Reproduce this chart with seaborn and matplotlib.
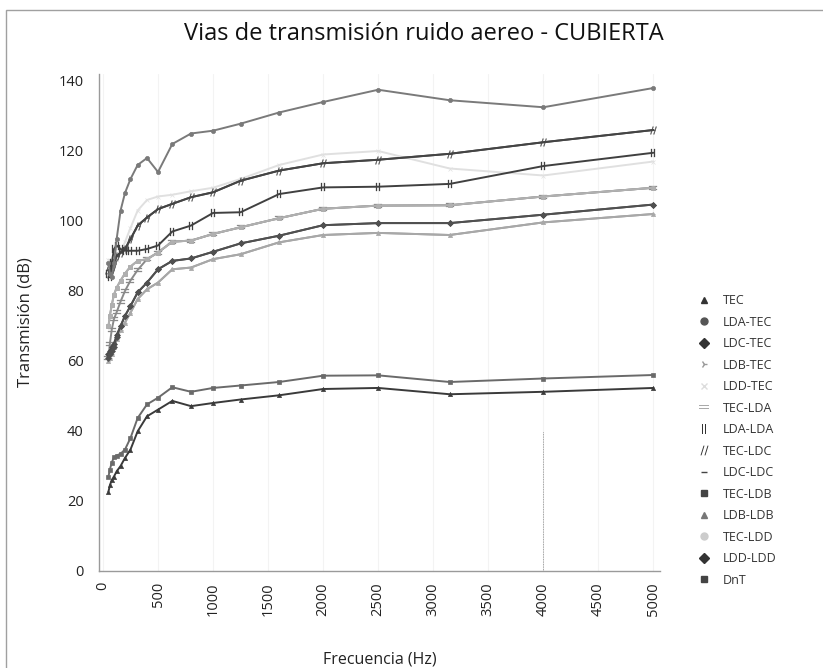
import matplotlib
matplotlib.use("Agg")
import matplotlib.pyplot as plt
from matplotlib.lines import Line2D
from matplotlib.patches import Rectangle
import seaborn as sns
import pandas as pd

freqs = [50, 63, 80, 100, 125, 160, 200, 250, 315, 400, 500, 630, 800, 1000,
         1250, 1600, 2000, 2500, 3150, 4000, 5000]

tec      = [22.7, 24.5, 26.0, 27.0, 28.5, 30.0, 32.3, 34.7, 39.9, 44.2, 46.1, 48.6, 47.1, 48.0, 49.0, 50.2, 52.0, 52.3, 50.5, 51.2, 52.3]
lda_tec  = [88.0, 85.0, 84.0, 88.0, 95.0, 103.0, 108.0, 112.0, 116.0, 118.0, 114.0, 122.0, 125.0, 125.8, 127.8, 131.0, 134.0, 137.5, 134.5, 132.5, 138.0]
ldc_tec  = [62.0, 63.0, 64.0, 65.0, 67.5, 70.0, 72.9, 75.7, 79.6, 82.4, 86.2, 88.6, 89.3, 91.2, 93.6, 95.8, 98.8, 99.4, 99.4, 101.8, 104.7]
ldb_tec  = [60.0, 61.0, 62.0, 64.0, 66.2, 69.0, 71.0, 73.8, 77.7, 80.5, 82.4, 86.2, 86.7, 89.1, 90.5, 93.9, 96.0, 96.6, 96.0, 99.6, 102.0]
ldd_tec  = [89.0, 88.0, 87.0, 88.0, 89.0, 91.0, 94.0, 98.0, 103.0, 106.0, 107.0, 107.5, 108.5, 109.5, 112.0, 116.0, 119.0, 120.0, 115.0, 113.0, 117.0]
tec_lda  = [61.0, 65.0, 69.0, 72.0, 74.0, 77.0, 80.0, 83.0, 86.0, 89.1, 91.0, 94.1, 94.4, 96.3, 98.2, 100.8, 103.5, 104.4, 104.5, 107.0, 109.5]
lda_lda  = [85.0, 84.0, 88.0, 92.0, 93.0, 92.0, 91.5, 91.5, 91.5, 92.0, 93.0, 97.0, 98.7, 102.3, 102.5, 107.7, 109.6, 109.8, 110.6, 115.7, 119.5]
tec_ldc  = [86.0, 85.0, 86.0, 88.0, 90.0, 91.0, 92.0, 94.8, 98.7, 101.0, 103.4, 104.9, 106.8, 108.2, 111.5, 114.4, 116.5, 117.5, 119.2, 122.5, 126.0]
ldc_ldc  = [86.0, 85.0, 86.0, 88.0, 90.0, 91.0, 92.0, 94.8, 98.7, 101.0, 103.4, 104.9, 106.8, 108.2, 111.5, 114.4, 116.5, 117.5, 119.2, 122.5, 126.0]
tec_ldb  = [70.0, 73.0, 76.0, 79.0, 81.0, 83.0, 85.0, 87.0, 88.6, 89.1, 91.0, 94.1, 94.4, 96.3, 98.2, 100.8, 103.5, 104.4, 104.5, 107.0, 109.5]
ldb_ldb  = [60.0, 61.0, 62.0, 64.0, 66.2, 69.0, 71.0, 73.8, 77.7, 80.5, 82.4, 86.2, 86.7, 89.1, 90.5, 93.9, 96.0, 96.6, 96.0, 99.6, 102.0]
tec_ldd  = [70.0, 73.0, 76.0, 79.0, 81.0, 83.0, 85.0, 87.0, 88.6, 89.1, 91.0, 94.1, 94.4, 96.3, 98.2, 100.8, 103.5, 104.4, 104.5, 107.0, 109.5]
ldd_ldd  = [61.0, 62.0, 63.0, 64.0, 67.0, 70.0, 72.9, 75.7, 79.6, 82.4, 86.2, 88.6, 89.3, 91.2, 93.6, 95.8, 98.8, 99.4, 99.4, 101.8, 104.7]
dnt      = [27.0, 29.0, 31.0, 32.5, 33.0, 33.5, 34.7, 38.0, 43.7, 47.6, 49.5, 52.5, 51.2, 52.3, 53.0, 54.0, 55.8, 55.9, 54.0, 55.0, 56.0]

series_names = ["TEC", "LDA-TEC", "LDC-TEC", "LDB-TEC", "LDD-TEC", "TEC-LDA", "LDA-LDA",
                "TEC-LDC", "LDC-LDC", "TEC-LDB", "LDB-LDB", "TEC-LDD", "LDD-LDD", "DnT"]
series_values = [tec, lda_tec, ldc_tec, ldb_tec, ldd_tec, tec_lda, lda_lda,
                 tec_ldc, ldc_ldc, tec_ldb, ldb_ldb, tec_ldd, ldd_ldd, dnt]

colors = {"TEC": "#3a3a3a", "LDA-TEC": "#7a7a7a", "LDC-TEC": "#4a4a4a", "LDB-TEC": "#9a9a9a",
          "LDD-TEC": "#e0e0e0", "TEC-LDA": "#8a8a8a", "LDA-LDA": "#404040", "TEC-LDC": "#4a4a4a",
          "LDC-LDC": "#444444", "TEC-LDB": "#9c9c9c", "LDB-LDB": "#a8a8a8", "TEC-LDD": "#b0b0b0",
          "LDD-LDD": "#505050", "DnT": "#6a6a6a"}
markers = {"TEC": "^", "LDA-TEC": "o", "LDC-TEC": "D", "LDB-TEC": "4", "LDD-TEC": "x",
           "TEC-LDA": "$=$", "LDA-LDA": "$||$", "TEC-LDC": "$//$", "LDC-LDC": "_",
           "TEC-LDB": "s", "LDB-LDB": "^", "TEC-LDD": "o", "LDD-LDD": "D", "DnT": "s"}
legend_colors = {"TEC": "#333333", "LDA-TEC": "#555555", "LDC-TEC": "#333333", "LDB-TEC": "#999999",
                 "LDD-TEC": "#dddddd", "TEC-LDA": "#aaaaaa", "LDA-LDA": "#333333", "TEC-LDC": "#333333",
                 "LDC-LDC": "#444444", "TEC-LDB": "#444444", "LDB-LDB": "#777777", "TEC-LDD": "#cccccc",
                 "LDD-LDD": "#333333", "DnT": "#444444"}

rows = []
for name, vals in zip(series_names, series_values):
    for f, v in zip(freqs, vals):
        rows.append({"Frecuencia": f, "Transmision": v, "Serie": name})
df = pd.DataFrame(rows)

sns.set_theme(style="white")
plt.rcParams["font.family"] = ["Open Sans", "DejaVu Sans"]

fig = plt.figure(figsize=(8.23, 6.68), dpi=100)
ax = fig.add_axes([99 / 823, 1 - 571 / 668, 561 / 823, (571 - 74) / 668])

draw_order = ["LDD-TEC", "TEC-LDA", "TEC-LDB", "TEC-LDD", "LDB-TEC", "LDB-LDB", "TEC-LDC",
              "LDC-LDC", "LDA-LDA", "LDC-TEC", "LDD-LDD", "LDA-TEC", "DnT", "TEC"]
for name in draw_order:
    sub = df[df["Serie"] == name]
    is_txt = markers[name].startswith("$")
    sns.lineplot(data=sub, x="Frecuencia", y="Transmision", ax=ax, color=colors[name],
                 linewidth=1.4, marker=markers[name], markersize=5.5 if is_txt else 3,
                 markeredgewidth=0.2 if is_txt else 0.5,
                 markeredgecolor=colors[name], legend=False, sort=False)

ax.set_xlim(-36, 5060)
ax.set_ylim(0, 142)
ax.set_xticks(range(0, 5001, 500))
ax.set_xticklabels([str(v) for v in range(0, 5001, 500)], rotation=90, fontsize=10.5, color="#222222")
ax.set_yticks(range(0, 141, 20))
ax.set_yticklabels([str(v) for v in range(0, 141, 20)], fontsize=10.5, color="#222222")
ax.tick_params(axis="x", length=3, color="#999999", pad=5)
ax.tick_params(axis="y", length=0, pad=11)
for s in ["top", "right"]:
    ax.spines[s].set_visible(False)
for s in ["left", "bottom"]:
    ax.spines[s].set_color("#9a9a9a")
    ax.spines[s].set_linewidth(1.0)
ax.grid(axis="x", color="#f3f3f3", linewidth=0.8)
ax.set_axisbelow(True)
ax.vlines(4000, 0, 40, color="#888888", linewidth=0.6, linestyles=(0, (1, 1)))

ax.set_xlabel("Frecuencia (Hz)", fontsize=11.5, color="#222222", labelpad=26)
ax.set_ylabel("Transmisión (dB)", fontsize=12, color="#222222", labelpad=18)
fig.suptitle("Vias de transmisión ruido aereo - CUBIERTA", x=0.515, y=0.967, fontsize=17, color="#111111")

handles = []
for n in series_names:
    is_txt = markers[n].startswith("$")
    handles.append(Line2D([0], [0], linestyle="none", marker=markers[n], color=legend_colors[n],
                          markerfacecolor=legend_colors[n], markeredgecolor=legend_colors[n],
                          markeredgewidth=0 if is_txt else 1.0,
                          markersize=7 if is_txt else 5))
leg = fig.legend(handles, series_names, loc="upper left", bbox_to_anchor=(690 / 823, 1 - 288 / 668),
                 frameon=False, fontsize=9, labelspacing=0.68, handletextpad=0.9, handlelength=1.2,
                 borderpad=0)
for t in leg.get_texts():
    t.set_color("#333333")

fig.add_artist(Rectangle((6 / 823, -0.02), 1.0, 1.005, transform=fig.transFigure,
                         fill=False, edgecolor="#a0a0a0", linewidth=1.0))

fig.savefig("out.png", dpi=100, facecolor="white")
